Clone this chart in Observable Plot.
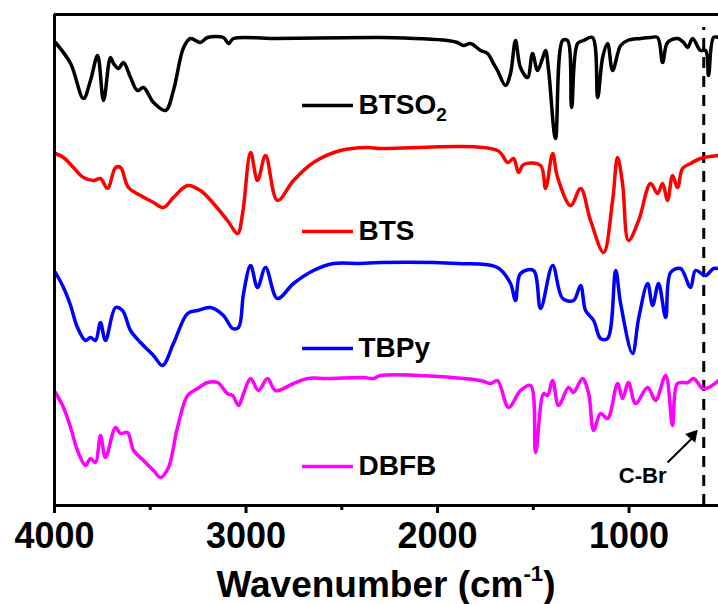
<!DOCTYPE html>
<html><head><meta charset="utf-8">
<script src="https://cdn.jsdelivr.net/npm/d3@7"></script>
<script src="https://cdn.jsdelivr.net/npm/@observablehq/plot@0.6"></script>
<style>
body{margin:0;background:#fff}
svg{display:block}
</style>
</head><body><div id="chart"></div>
<script>
// Series
const seriesNames = ["BTSO2", "BTS", "TBPy", "DBFB"];
const seriesColors = ["#000000", "#ff0000", "#0000ff", "#ff00ff"];

// BTSO2 (black) – wavenumber (cm-1) and transmittance (a.u., offset)
const btso2Wn = [3995,3916,3849,3812,3775,3744,3708,3692,3666,3640,3603,3567,3535,3483,3420,3379,3326,3290,3238,3201,3118,3091,3065,2856,2334,2298,1948,1896,1864,1828,1775,1739,1708,1687,1645,1619,1593,1567,1530,1504,1478,1452,1436,1420,1384,1347,1321,1300,1269,1238,1191,1164,1138,1112,1086,1044,1008,940,888,851,825,799,747,715,694,668,627,600,585,559,533];
const btso2T  = [463,442,407,425,450,405,448,442,437,443,428,415,418,403,395,415,458,467,463,468,468,462,467,467,468,468,465,463,460,462,455,452,442,435,420,432,465,438,428,452,435,447,455,435,367,465,465,398,462,465,468,408,448,462,435,460,465,467,468,468,443,463,467,463,458,467,455,455,430,468,468];

// BTS (red)
const btsWn = [3995,3953,3901,3849,3796,3760,3723,3681,3655,3614,3551,3483,3431,3379,3305,3238,3170,3097,3044,3018,2976,2940,2898,2836,2752,2648,2507,2366,2298,1687,1634,1603,1577,1551,1462,1436,1399,1373,1305,1253,1201,1133,1086,1060,1034,1003,950,888,851,825,799,773,747,721,679,627,533];
const btsT  = [352,348,338,328,325,327,317,338,338,318,310,303,298,308,320,315,302,285,272,292,353,325,350,305,325,343,355,358,357,355,343,347,333,341,340,317,352,328,300,317,285,253,305,348,322,265,285,322,312,322,305,330,318,337,342,347,350];

// TBPy (blue)
const tbpyWn = [3995,3953,3916,3880,3838,3812,3786,3760,3734,3681,3645,3603,3551,3483,3436,3379,3305,3253,3185,3118,3070,3039,3013,2976,2940,2898,2836,2752,2648,2543,2402,2298,1896,1687,1619,1593,1567,1499,1462,1399,1347,1290,1253,1227,1185,1149,1112,1070,1044,982,950,903,877,846,809,783,731,679,653,600,559,533];
const tbpyT  = [233,218,200,178,165,168,165,183,165,198,195,175,163,150,140,162,192,195,198,190,177,178,212,240,218,238,207,222,235,242,242,243,242,238,222,205,232,235,197,240,207,205,220,195,185,167,167,235,202,152,187,222,200,222,188,233,237,218,235,230,237,237];

// DBFB (magenta)
const dbfbWn = [3995,3953,3916,3880,3838,3812,3786,3760,3734,3681,3655,3619,3587,3535,3483,3446,3405,3358,3305,3253,3201,3149,3097,3070,3039,3013,2976,2935,2888,2846,2752,2679,2574,2386,2334,2298,1775,1723,1687,1629,1567,1514,1488,1446,1426,1399,1368,1316,1290,1243,1211,1185,1149,1112,1060,1034,1003,966,903,862,809,773,747,694,663,616,585,533];
const dbfbT  = [113,98,78,55,40,47,43,70,48,78,72,73,55,45,35,28,38,78,110,117,123,123,112,110,100,112,127,115,127,115,122,127,127,128,127,130,125,122,125,98,115,120,53,112,110,125,100,118,113,127,112,75,92,87,122,107,123,102,118,105,130,80,122,123,127,117,118,125];

// Axis ticks and annotation
const xTicks = [4000, 3000, 2000, 1000];
const xMinorTicks = [3500, 2500, 1500];
const cBrWn = 610;
const cBrLabel = "C-Br";

const seriesData = [[btso2Wn, btso2T], [btsWn, btsT], [tbpyWn, tbpyT], [dbfbWn, dbfbT]];
const rows = [];
seriesData.forEach(([w, t], i) => w.forEach((wn, j) => rows.push({series: seriesNames[i], wn, t: t[j]})));

const legendRows = seriesNames.map((s, i) => ({series: s, ly: [400, 274, 157, 39][i]}));

const font = "'Liberation Sans', Arial, Helvetica, sans-serif";

const chart = Plot.plot({
  width: 718,
  height: 604,
  marginLeft: 54,
  marginRight: 0,
  marginTop: 14,
  marginBottom: 99,
  style: {fontFamily: font, background: "#fff", overflow: "visible"},
  x: {domain: [4000, 533], label: null},
  y: {domain: [0, 491], axis: null},
  color: {domain: seriesNames, range: seriesColors},
  marks: [
    Plot.ruleX([cBrWn], {stroke: "#000", strokeWidth: 3, strokeDasharray: "11,8", y1: 0, y2: 478}),
    Plot.line(rows, {x: "wn", y: "t", z: "series", stroke: "series", strokeWidth: 3.5, curve: "catmull-rom", strokeLinejoin: "round"}),
    Plot.ruleY(legendRows, {y: "ly", x1: 2705, x2: 2439, stroke: "series", strokeWidth: 3.5}),
    Plot.text(legendRows, {x: 2413, y: "ly", text: "series", textAnchor: "start", fontSize: 28, fontWeight: "bold", fill: "#000"}),
    Plot.link([{x1: 799, y1: 43, x2: 672, y2: 67}], {x1: "x1", y1: "y1", x2: "x2", y2: "y2", stroke: "#000", strokeWidth: 2}),
    Plot.dot([{x: 668, y: 70}], {x: "x", y: "y", symbol: "triangle", r: 5, fill: "#000", stroke: "none", rotate: 41}),
    Plot.text([{w: 929, t: 30}], {x: "w", y: "t", text: () => cBrLabel, fontSize: 22, fontWeight: "bold", fill: "#000"}),
    Plot.ruleX([4000], {strokeWidth: 3, stroke: "#000"}),
    Plot.ruleY([491], {strokeWidth: 3, stroke: "#000"}),
    Plot.ruleY([0], {strokeWidth: 3, stroke: "#000"}),
    Plot.axisX(xTicks, {tickSize: 8, tickPadding: 9, fontSize: 36, fontWeight: "bold", strokeWidth: 3, tickFormat: d => String(d), label: null}),
    Plot.axisX(xMinorTicks, {tickSize: 5, strokeWidth: 3, tickFormat: () => "", label: null})
  ]
});

const svg = d3.select(chart);
svg.selectAll("text").filter(function() { return this.textContent === "BTSO2"; }).each(function() {
  this.textContent = "BTSO";
  d3.select(this).append("tspan").attr("dy", "0.35em").attr("font-size", "0.68em").text("2");
});
svg.selectAll("g[aria-label='x-axis tick label'] text").attr("font-weight", "bold");

const xr = chart.scale("x").range;
const lab = svg.append("text")
  .attr("x", (xr[0] + xr[1]) / 2)
  .attr("y", 597)
  .attr("text-anchor", "middle")
  .attr("font-size", 37)
  .attr("font-weight", "bold")
  .attr("font-family", font)
  .attr("fill", "#000");
lab.append("tspan").text("Wavenumber (cm");
lab.append("tspan").attr("dy", "-0.7em").attr("font-size", "0.6em").text("-1");
lab.append("tspan").attr("dy", "0.42em").text(")");

document.getElementById("chart").appendChild(chart);
</script>
</body></html>
